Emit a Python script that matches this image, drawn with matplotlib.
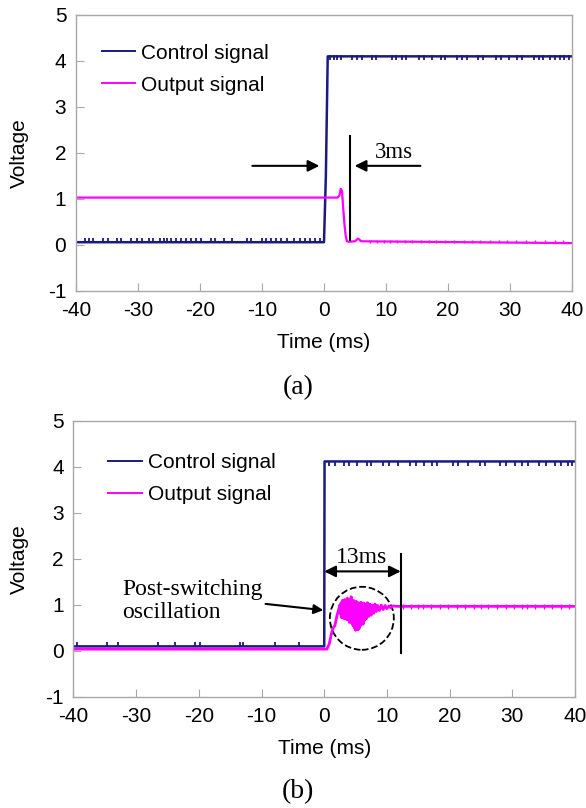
import numpy as np
import matplotlib.pyplot as plt
from matplotlib.patches import Ellipse

plt.rcParams['font.family'] = ['Liberation Sans', 'DejaVu Sans']
plt.rcParams['axes.unicode_minus'] = False
SERIF = ['Liberation Serif', 'DejaVu Serif']

NAVY = '#1a1a80'
PINK = '#ff00ff'
GRID = '#a8a8a8'

# ---- panel (a) data ----
ctrl_a_t = [-40, 0.0, 0.3, 0.6, 40]
ctrl_a_v = [0.06, 0.06, 1.5, 4.1, 4.1]
ctrl_a_spk_lo = [-38.6, -37.9, -37.2, -35.7, -34.9, -33.4, -32.8, -31.2, -30.1, -29.4, -28.2,
                 -27.6, -26.5, -25.8, -25.3, -24.6, -23.9, -23.1, -22.2, -21.5, -20.6, -19.9,
                 -18.3, -17.6, -16.1, -14.8, -12.4, -11.7, -10.0, -9.3, -8.6, -7.7, -6.9,
                 -5.9, -4.8, -3.9, -3.0, -2.2, -1.5, -0.7]
ctrl_a_spk_hi = [0.9, 1.6, 2.1, 2.8, 4.5, 5.3, 6.2, 7.8, 8.4, 10.9, 11.6, 12.6, 13.3, 15.3,
                 16.1, 17.4, 18.8, 19.5, 21.4, 22.2, 23.0, 24.9, 25.6, 27.7, 28.5, 29.9,
                 31.2, 32.0, 33.8, 34.6, 35.4, 36.5, 37.3, 38.0, 38.7, 39.5]
out_a_t = [-40, 2.2, 2.5, 2.7, 2.9, 3.1, 3.3, 3.5, 3.7, 4.0, 5.0, 5.5, 6.0, 40]
out_a_v = [1.03, 1.03, 1.08, 1.22, 1.18, 0.8, 0.45, 0.2, 0.08, 0.07, 0.08, 0.14, 0.08, 0.04]
out_a_spk = [7.5, 8.6, 9.6, 10.7, 11.8, 13.0, 14.2, 15.6, 16.9, 18.1, 19.5, 21.0, 22.6,
             23.8, 25.1, 26.7, 28.3, 29.5, 30.9, 32.6, 34.1, 35.7, 37.2, 38.6]

# ---- panel (b) data ----
ctrl_b_t = [-40, 0.0, 0.05, 40]
ctrl_b_v = [0.1, 0.1, 4.12, 4.12]
ctrl_b_spk_lo = [-39.4, -34.6, -32.9, -26.5, -23.8, -20.6, -19.8, -13.5, -13.0, -7.8, -4.1]
ctrl_b_spk_hi = [0.8, 1.7, 3.1, 4.0, 5.2, 6.8, 7.5, 9.4, 10.3, 11.8, 13.7, 14.6, 15.9, 17.2,
                 18.0, 20.5, 21.3, 22.9, 24.8, 25.7, 28.1, 29.0, 30.4, 31.6, 32.5, 34.2,
                 35.3, 36.8, 37.7, 38.9, 39.6]
out_b_t = [-40, 0.4, 0.8, 1.1, 1.4, 1.7, 2.0, 2.3, 2.5,
           2.6, 2.7, 2.8, 2.9, 3.0, 3.1, 3.2, 3.3, 3.4, 3.5,
           3.6, 3.7, 3.8, 3.9, 4.0, 4.1, 4.2, 4.3, 4.4, 4.5,
           4.6, 4.7, 4.8, 4.9, 5.0, 5.1, 5.2, 5.3, 5.4, 5.5,
           5.6, 5.7, 5.8, 5.9, 6.0, 6.1, 6.2, 6.3, 6.4, 6.5,
           6.7, 6.9, 7.1, 7.3, 7.5, 7.7, 7.9, 8.1, 8.3, 8.5,
           8.8, 9.1, 9.4, 9.7, 10.0, 10.3, 10.6, 11.0, 11.5, 40]
out_b_v = [0.04, 0.04, 0.15, 0.35, 0.5, 0.55, 0.75, 0.9, 1.0,
           0.8, 1.05, 0.72, 1.1, 0.85, 1.02, 0.7, 1.12, 0.8, 1.0,
           0.68, 1.15, 0.75, 1.08, 0.62, 1.12, 0.7, 1.18, 0.6, 1.05,
           0.55, 1.1, 0.5, 1.02, 0.45, 1.08, 0.52, 1.0, 0.46, 1.05,
           0.5, 1.02, 0.55, 1.06, 0.6, 1.0, 0.58, 1.04, 0.66, 1.02,
           0.7, 1.05, 0.75, 1.02, 0.78, 1.0, 0.82, 1.02, 0.86, 0.99,
           0.88, 1.0, 0.9, 0.99, 0.92, 0.98, 0.94, 0.98, 0.97, 0.97]
out_b_spk = [12.6, 13.8, 15.0, 15.8, 17.1, 18.4, 19.7, 21.1, 22.5, 23.9, 25.0, 26.2, 27.6,
             29.0, 30.3, 31.5, 32.4, 33.7, 35.1, 36.4, 37.8, 39.0]

xticks = [-40, -30, -20, -10, 0, 10, 20, 30, 40]
yticks = [-1, 0, 1, 2, 3, 4, 5]

fig = plt.figure(figsize=(5.86, 8.08), dpi=100)
ax_a = fig.add_axes([0.1297, 0.6399, 0.8464, 0.3416])
ax_b = fig.add_axes([0.1254, 0.1374, 0.8558, 0.3416])


def style(ax, lab_x):
    ax.set_xlim(-40, 40)
    ax.set_ylim(-1, 5)
    ax.set_xticks(xticks)
    ax.set_yticks(yticks)
    for s in ax.spines.values():
        s.set_color(GRID)
        s.set_linewidth(1.0)
    ax.tick_params(direction='in', length=6, color=GRID, labelsize=15)
    ax.tick_params(axis='x', pad=7)
    ax.tick_params(axis='y', pad=7)
    ax.set_ylabel('Voltage', fontsize=15, va='center')
    ax.yaxis.set_label_coords(lab_x, 0.5)
    ax.set_xlabel('Time (ms)', fontsize=15, va='center')
    ax.xaxis.set_label_coords(0.5, -0.188)


# ---- (a) ----
ax_a.plot(ctrl_a_t, ctrl_a_v, color=NAVY, lw=1.8, label='Control signal')
ax_a.vlines(ctrl_a_spk_lo, 0.06, 0.15, color=NAVY, lw=1.3)
ax_a.vlines(ctrl_a_spk_hi, 4.02, 4.14, color=NAVY, lw=1.3)
ax_a.plot(out_a_t, out_a_v, color=PINK, lw=1.6, label='Output signal')
ax_a.vlines(out_a_spk, 0.04, 0.11, color=PINK, lw=1.0)
style(ax_a, -0.114)
leg = ax_a.legend(loc='center left', bbox_to_anchor=(0.035, 0.804), frameon=False, fontsize=15,
                  handlelength=1.6, handletextpad=0.3, labelspacing=0.62, borderaxespad=0)
for ln in leg.get_lines():
    ln.set_linewidth(1.4)

ax_a.annotate('', xy=(-0.3, 1.72), xytext=(-12, 1.72),
              arrowprops=dict(arrowstyle='-|>', color='black', lw=1.5, mutation_scale=17))
ax_a.annotate('', xy=(4.5, 1.72), xytext=(16, 1.72),
              arrowprops=dict(arrowstyle='-|>', color='black', lw=1.5, mutation_scale=17))
ax_a.plot([4.2, 4.2], [0.1, 2.37], color='black', lw=1.5)
ax_a.text(11.3, 2.0, '3ms', family=SERIF, fontsize=16.5, ha='center', va='center')

# ---- (b) ----
ax_b.plot(ctrl_b_t, ctrl_b_v, color=NAVY, lw=1.8, label='Control signal')
ax_b.vlines(ctrl_b_spk_lo, 0.1, 0.2, color=NAVY, lw=1.3)
ax_b.vlines(ctrl_b_spk_hi, 4.03, 4.14, color=NAVY, lw=1.3)
ax_b.plot(out_b_t, out_b_v, color=PINK, lw=2.0, label='Output signal')
ax_b.vlines(out_b_spk, 0.92, 1.02, color=PINK, lw=1.0)
style(ax_b, -0.108)
leg = ax_b.legend(loc='center left', bbox_to_anchor=(0.053, 0.791), frameon=False, fontsize=15,
                  handlelength=1.6, handletextpad=0.3, labelspacing=0.62, borderaxespad=0)
for ln in leg.get_lines():
    ln.set_linewidth(1.4)

ax_b.annotate('', xy=(12.2, 1.73), xytext=(0, 1.73),
              arrowprops=dict(arrowstyle='<|-|>', color='black', lw=1.5, mutation_scale=17,
                              shrinkA=0, shrinkB=0))
ax_b.plot([12.2, 12.2], [-0.04, 2.1], color='black', lw=1.5)
ax_b.text(6.0, 2.03, '13ms', family=SERIF, fontsize=17, ha='center', va='center')
ax_b.add_patch(Ellipse((6.0, 0.71), 10.2, 1.37, fill=False, ls='--', lw=1.3, color='black'))
ax_b.text(-32.2, 1.08, 'Post-switching\noscillation', family=SERIF, fontsize=17,
          ha='left', va='center', linespacing=1.15)
ax_b.annotate('', xy=(0.3, 0.88), xytext=(-9.8, 1.03),
              arrowprops=dict(arrowstyle='-|>', color='black', lw=1.5, mutation_scale=14))

fig.text(298 / 586, 1 - 388 / 808, '(a)', family=SERIF, fontsize=20, ha='center', va='center')
fig.text(298 / 586, 1 - 792 / 808, '(b)', family=SERIF, fontsize=20, ha='center', va='center')

fig.savefig('out.png', dpi=100)
